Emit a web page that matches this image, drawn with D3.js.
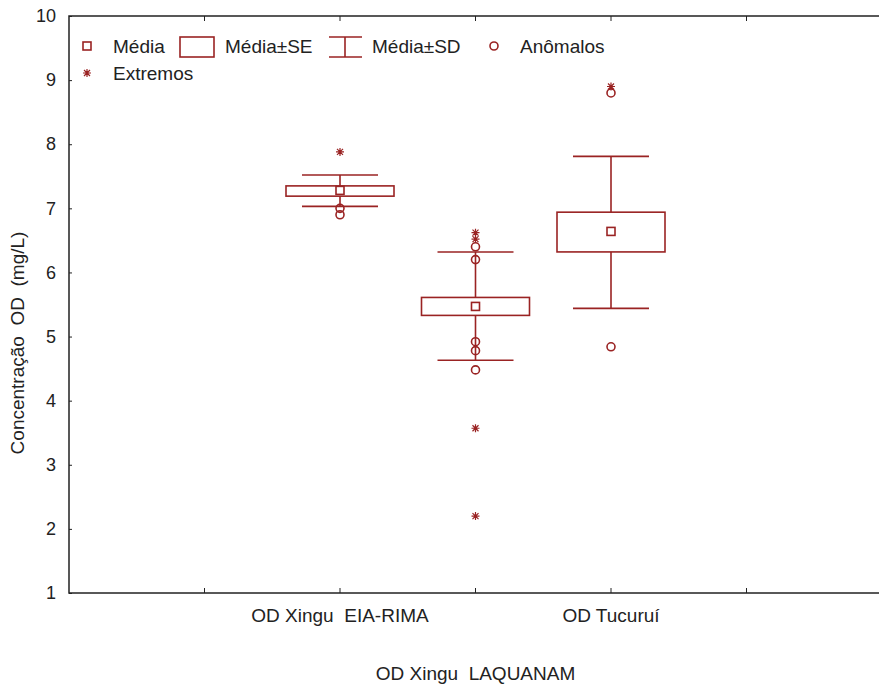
<!DOCTYPE html>
<html>
<head>
<meta charset="utf-8">
<script src="https://cdn.jsdelivr.net/npm/d3@7"></script>
<style>
  body { margin: 0; background: #fff; }
  text { font-family: "Liberation Sans", Arial, sans-serif; fill: #222; white-space: pre; }
</style>
</head>
<body>
<svg id="chart" width="879" height="686"></svg>
<script>
// Data
var categories = ["OD Xingu  EIA-RIMA", "OD Xingu  LAQUANAM", "OD Tucuruí"];
var means   = [7.28, 5.47, 6.64];
var seLow   = [7.19, 5.33, 6.32];
var seHigh  = [7.35, 5.61, 6.94];
var sdLow   = [7.03, 4.63, 5.44];
var sdHigh  = [7.52, 6.32, 7.81];
var outliers = [[7.0, 6.9], [6.4, 6.2, 4.92, 4.78, 4.48], [8.8, 4.84]];
var extremes = [[7.88], [6.62, 6.52, 3.57, 2.2], [8.9]];
var yTicks = [1, 2, 3, 4, 5, 6, 7, 8, 9, 10];

var red = "#9a2323";
var svg = d3.select("#chart");

// Define the scales (category positions 2,3,4 on a 0..6 frame)
var x = d3.scaleLinear().domain([0, 6]).range([69, 882]);
var y = d3.scaleLinear().domain([1, 10]).range([593, 16]);

// Frame
svg.append("rect")
  .attr("x", x(0)).attr("y", y(10))
  .attr("width", x(6) - x(0)).attr("height", y(1) - y(10))
  .attr("fill", "none").attr("stroke", "#222").attr("stroke-width", 1.5);

// Inner ticks on top and bottom
[1, 2, 3, 4, 5].forEach(function(t) {
  svg.append("line").attr("x1", x(t)).attr("x2", x(t))
    .attr("y1", y(1)).attr("y2", y(1) - 5).attr("stroke", "#222");
  svg.append("line").attr("x1", x(t)).attr("x2", x(t))
    .attr("y1", y(10)).attr("y2", y(10) + 5).attr("stroke", "#222");
});

// Left axis (ticks point inward)
var yAxis = d3.axisLeft(y).tickValues(yTicks).tickSize(-3).tickFormat(d3.format("d"));
var ga = svg.append("g").attr("transform", "translate(" + x(0) + ",0)").call(yAxis);
ga.select(".domain").remove();
ga.selectAll("line").attr("stroke", "#222");
ga.selectAll("text").attr("x", -13).style("font-size", "18px").attr("fill", "#222");

// Y axis title
svg.append("text")
  .attr("transform", "translate(24,343) rotate(-90)")
  .attr("text-anchor", "middle")
  .style("font-size", "19px")
  .text("Concentração  OD  (mg/L)");

// Category labels (middle one staggered lower)
categories.forEach(function(c, i) {
  svg.append("text")
    .attr("x", x(i + 2))
    .attr("y", i === 1 ? 680 : 622)
    .attr("text-anchor", "middle")
    .style("font-size", "19px")
    .text(c);
});

// Boxes
var boxHalf = 54, whiskHalf = 38;
categories.forEach(function(c, i) {
  var cx = x(i + 2);
  var g = svg.append("g").attr("stroke", red).attr("fill", "none").attr("stroke-width", 1.6);
  g.append("line").attr("x1", cx).attr("x2", cx).attr("y1", y(sdHigh[i])).attr("y2", y(sdLow[i]));
  g.append("line").attr("x1", cx - whiskHalf).attr("x2", cx + whiskHalf).attr("y1", y(sdHigh[i])).attr("y2", y(sdHigh[i]));
  g.append("line").attr("x1", cx - whiskHalf).attr("x2", cx + whiskHalf).attr("y1", y(sdLow[i])).attr("y2", y(sdLow[i]));
  g.append("rect").attr("x", cx - boxHalf).attr("y", y(seHigh[i]))
    .attr("width", boxHalf * 2).attr("height", y(seLow[i]) - y(seHigh[i])).attr("fill", "#fff");
  g.append("rect").attr("x", cx - 4).attr("y", y(means[i]) - 4)
    .attr("width", 8).attr("height", 8).attr("fill", "#fff");

  g.selectAll(".out").data(outliers[i]).enter().append("circle")
    .attr("class", "out").attr("cx", cx).attr("cy", function(d) { return y(d); })
    .attr("r", 4).attr("fill", "none");

  g.selectAll(".ext").data(extremes[i]).enter().append("path")
    .attr("class", "ext")
    .attr("transform", function(d) { return "translate(" + cx + "," + y(d) + ")"; })
    .attr("d", "M-4,0H4M0,-4V4M-3,-3L3,3M-3,3L3,-3")
    .attr("stroke-width", 1.2);
});

// Legend
var lg = svg.append("g");
var ly = 46;
lg.append("rect").attr("x", 83).attr("y", ly - 4).attr("width", 8).attr("height", 8)
  .attr("fill", "none").attr("stroke", red).attr("stroke-width", 1.6);
lg.append("text").attr("x", 113).attr("y", ly + 7).style("font-size", "19px").text("Média");
lg.append("rect").attr("x", 180).attr("y", ly - 9).attr("width", 34).attr("height", 20)
  .attr("fill", "none").attr("stroke", red).attr("stroke-width", 1.6);
lg.append("text").attr("x", 225).attr("y", ly + 7).style("font-size", "19px").text("Média±SE");
lg.append("path").attr("d", "M329," + (ly - 9) + "H362M345," + (ly - 9) + "V" + (ly + 11) + "M329," + (ly + 11) + "H362")
  .attr("fill", "none").attr("stroke", red).attr("stroke-width", 1.6);
lg.append("text").attr("x", 372).attr("y", ly + 7).style("font-size", "19px").text("Média±SD");
lg.append("circle").attr("cx", 494).attr("cy", ly).attr("r", 4)
  .attr("fill", "none").attr("stroke", red).attr("stroke-width", 1.6);
lg.append("text").attr("x", 520).attr("y", ly + 7).style("font-size", "19px").text("Anômalos");
lg.append("path").attr("transform", "translate(87," + (ly + 27) + ")")
  .attr("d", "M-4,0H4M0,-4V4M-3,-3L3,3M-3,3L3,-3")
  .attr("fill", "none").attr("stroke", red).attr("stroke-width", 1.2);
lg.append("text").attr("x", 113).attr("y", ly + 34).style("font-size", "19px").text("Extremos");
</script>
</body>
</html>
